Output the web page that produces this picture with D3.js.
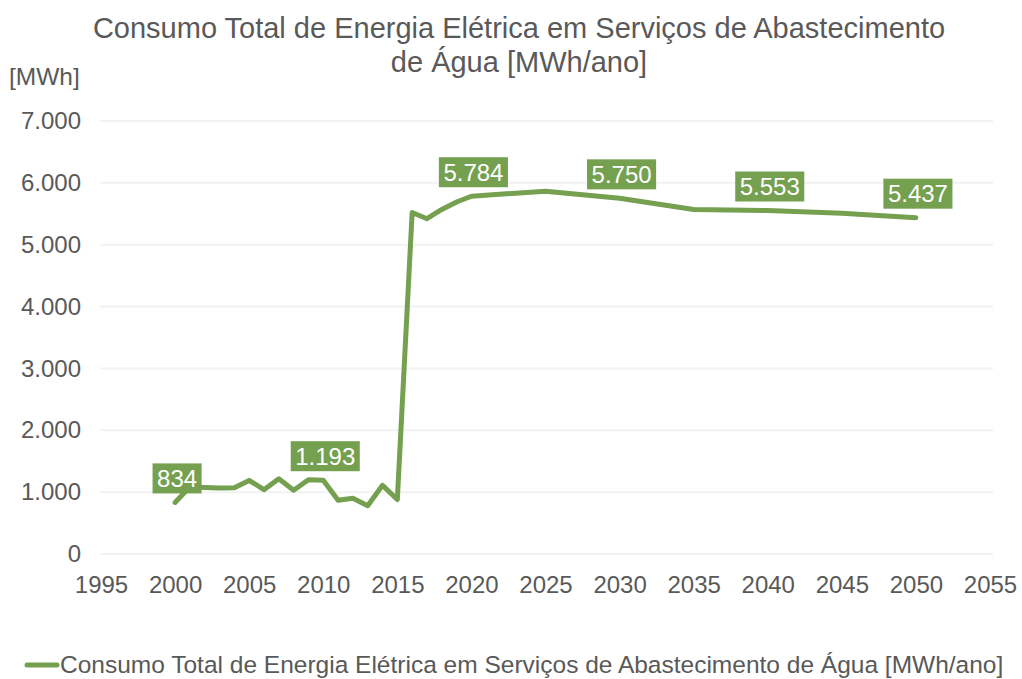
<!DOCTYPE html>
<html>
<head>
<meta charset="utf-8">
<script src="https://cdn.jsdelivr.net/npm/d3@7"></script>
<style>
  html, body { margin: 0; padding: 0; background: #fff; }
  svg { display: block; font-family: "Liberation Sans", Arial, sans-serif; }
</style>
</head>
<body>
<svg id="chart" width="1022" height="679"></svg>
<script>
const titleLines = ["Consumo Total de Energia Elétrica em Serviços de Abastecimento", "de Água [MWh/ano]"];
const yUnit = "[MWh]";
const seriesName = "Consumo Total de Energia Elétrica em Serviços de Abastecimento de Água [MWh/ano]";
const years = [2000, 2001, 2002, 2003, 2004, 2005, 2006, 2007, 2008, 2009, 2010, 2011, 2012, 2013, 2014, 2015, 2016, 2017, 2018, 2019, 2020, 2025, 2030, 2035, 2040, 2045, 2050];
const values = [834, 1085, 1075, 1065, 1070, 1190, 1040, 1215, 1030, 1200, 1193, 870, 900, 780, 1110, 880, 5520, 5420, 5570, 5690, 5784, 5865, 5750, 5570, 5553, 5510, 5437];
const labelYears = [2000, 2010, 2020, 2030, 2040, 2050];
const yTicks = [0, 1000, 2000, 3000, 4000, 5000, 6000, 7000];
const xTicks = [1995, 2000, 2005, 2010, 2015, 2020, 2025, 2030, 2035, 2040, 2045, 2050, 2055];

const svg = d3.select("#chart");
const green = "#74A050";
const textColor = "#595959";
const fmt = v => d3.format(",")(v).replace(/,/g, ".");

const x = d3.scaleLinear().domain([1995, 2055]).range([101, 990]);
const y = d3.scaleLinear().domain([0, 7000]).range([554, 121]);

// title
svg.append("text").attr("x", 519).attr("y", 38).attr("text-anchor", "middle")
  .attr("font-size", 29).attr("fill", textColor)
  .selectAll("tspan").data(titleLines).join("tspan")
  .attr("x", 519).attr("dy", (d, i) => i === 0 ? 0 : 34).text(d => d);

svg.append("text").attr("x", 9).attr("y", 85).attr("font-size", 24.5)
  .attr("fill", textColor).text(yUnit);

// gridlines
svg.append("g").selectAll("line").data(yTicks).join("line")
  .attr("x1", 100).attr("x2", 993)
  .attr("y1", d => y(d)).attr("y2", d => y(d))
  .attr("stroke", "#F2F2F2").attr("stroke-width", 2);

// y axis
const yAxis = svg.append("g").attr("transform", "translate(81,0)")
  .call(d3.axisLeft(y).tickValues(yTicks).tickFormat(fmt).tickSize(0).tickPadding(0));
yAxis.select(".domain").remove();
yAxis.selectAll("text").attr("font-size", 24).attr("fill", textColor)
  .attr("font-family", "Liberation Sans, Arial, sans-serif");

// x axis
const xAxis = svg.append("g").attr("transform", "translate(0,576)")
  .call(d3.axisBottom(x).tickValues(xTicks).tickFormat(d3.format("d")).tickSize(0).tickPadding(0));
xAxis.select(".domain").remove();
xAxis.selectAll("text").attr("font-size", 24).attr("fill", textColor)
  .attr("font-family", "Liberation Sans, Arial, sans-serif");

// line
const data = years.map((yr, i) => ({ yr, v: values[i] }));
svg.append("path").datum(data)
  .attr("fill", "none").attr("stroke", green).attr("stroke-width", 5)
  .attr("stroke-linejoin", "round").attr("stroke-linecap", "round")
  .attr("d", d3.line().x(d => x(d.yr)).y(d => y(d.v)));

// data labels
const labels = svg.append("g").selectAll("g")
  .data(data.filter(d => labelYears.includes(d.yr))).join("g")
  .attr("transform", d => `translate(${x(d.yr) + 2},${y(d.v) - 24})`);
labels.each(function (d) {
  const g = d3.select(this);
  const t = g.append("text").attr("text-anchor", "middle").attr("dy", "0.36em")
    .attr("font-size", 24).attr("fill", "#fff").text(fmt(d.v));
  const w = t.node().getComputedTextLength() + 9;
  g.insert("rect", "text").attr("x", -w / 2).attr("y", -15).attr("width", w).attr("height", 30)
    .attr("fill", green);
});

// legend
svg.append("line").attr("x1", 27).attr("x2", 57).attr("y1", 665).attr("y2", 665)
  .attr("stroke", green).attr("stroke-width", 5).attr("stroke-linecap", "round");
svg.append("text").attr("x", 60).attr("y", 673).attr("font-size", 24.5)
  .attr("fill", textColor).text(seriesName);
</script>
</body>
</html>
